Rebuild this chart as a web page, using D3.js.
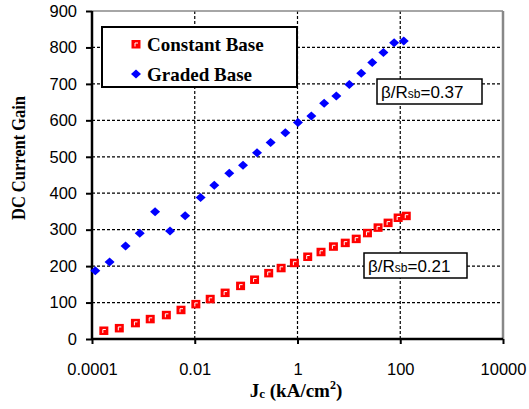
<!DOCTYPE html>
<html>
<head>
<meta charset="utf-8">
<script src="https://cdn.jsdelivr.net/npm/d3@7"></script>
<style>
  body { margin: 0; background: #fff; }
  svg { display: block; }
</style>
</head>
<body>
<div id="chart"></div>
<script>
// Constant Base (red squares)
const constJc = [1.7e-4, 3.4e-4, 7e-4, 1.36e-3, 2.8e-3, 5.4e-3, 0.0105, 0.02, 0.039, 0.078, 0.146, 0.275, 0.48, 0.87, 1.58, 2.87, 5.0, 8.5, 13.9, 23, 37, 58, 91, 131];
const constGain = [22, 29, 43, 54, 65, 79, 95, 109, 126, 145, 162, 180, 194, 208, 225, 238, 253, 263, 274, 290, 305, 318, 332, 337];
// Graded Base (blue diamonds)
const gradedJc = [1.16e-4, 2.2e-4, 4.5e-4, 8.5e-4, 1.69e-3, 3.3e-3, 6.5e-3, 0.013, 0.024, 0.047, 0.087, 0.163, 0.30, 0.58, 1.02, 1.86, 3.3, 5.7, 10.2, 17.4, 28.5, 47, 76, 117];
const gradedGain = [187, 211, 255, 290, 349, 296, 338, 388, 422, 455, 477, 511, 539, 566, 594, 612, 647, 667, 698, 729, 759, 786, 813, 818];

const xTicks = [1e-4, 1e-2, 1, 100, 1e4];
const xTickLabels = ["0.0001", "0.01", "1", "100", "10000"];
const yTicks = [0, 100, 200, 300, 400, 500, 600, 700, 800, 900];
const legendNames = ["Constant Base", "Graded Base"];

const W = 529, H = 409;
const margin = {top: 11, right: 26, bottom: 70, left: 92};
const width = W - margin.left - margin.right;
const height = H - margin.top - margin.bottom;

const svg = d3.select("#chart").append("svg")
    .attr("width", W)
    .attr("height", H);

const x = d3.scaleLog().domain([1e-4, 1e4]).range([margin.left, margin.left + width]);
const y = d3.scaleLinear().domain([0, 900]).range([margin.top + height, margin.top]);

// gridlines
svg.append("g").selectAll("line")
  .data(xTicks.slice(1, -1))
  .join("line")
    .attr("x1", d => x(d)).attr("x2", d => x(d))
    .attr("y1", y(0)).attr("y2", y(900))
    .attr("stroke", "#000").attr("stroke-width", 1.2)
    .attr("stroke-dasharray", "3,2");

svg.append("g").selectAll("line")
  .data(yTicks.slice(1, -1))
  .join("line")
    .attr("x1", x(1e-4)).attr("x2", x(1e4))
    .attr("y1", d => y(d)).attr("y2", d => y(d))
    .attr("stroke", "#000").attr("stroke-width", 1.2)
    .attr("stroke-dasharray", "3,2");

// plot-area border (top / right in grey)
svg.append("line")
    .attr("x1", x(1e-4)).attr("x2", x(1e4))
    .attr("y1", y(900)).attr("y2", y(900))
    .attr("stroke", "#888").attr("stroke-width", 1.5);
svg.append("line")
    .attr("x1", x(1e4)).attr("x2", x(1e4))
    .attr("y1", y(900)).attr("y2", y(0))
    .attr("stroke", "#888").attr("stroke-width", 2.5);

// axes
const xAxis = d3.axisBottom(x)
    .tickValues(xTicks)
    .tickFormat((d, i) => xTickLabels[i])
    .tickSize(5)
    .tickPadding(19);
const gx = svg.append("g")
    .attr("transform", `translate(0,${y(0)})`)
    .call(xAxis);

const yAxis = d3.axisLeft(y)
    .tickValues(yTicks)
    .tickSize(6)
    .tickPadding(9);
const gy = svg.append("g")
    .attr("transform", `translate(${x(1e-4)},0)`)
    .call(yAxis);

[gx, gy].forEach(g => {
  g.select(".domain").attr("stroke", "#000").attr("stroke-width", 2.5);
  g.selectAll(".tick line").attr("stroke", "#000").attr("stroke-width", 2);
  g.selectAll(".tick text")
    .attr("fill", "#000")
    .style("font-family", "'Liberation Sans', Arial, sans-serif")
    .style("font-size", "16.5px");
});
gy.select(".domain").attr("d", `M0,${y(0)}V${y(900)}`);
gx.select(".domain").attr("d", `M${x(1e-4)},0H${x(1e4)}`);

// markers
function squareMark(sel) {
  sel.append("rect")
    .attr("x", -4.5).attr("y", -4.5).attr("width", 9).attr("height", 8.5)
    .attr("fill", "#f00");
  sel.append("path")
    .attr("d", "M-1,2V-1.5H2")
    .attr("fill", "none").attr("stroke", "#fff").attr("stroke-width", 1);
}
function diamondMark(sel) {
  sel.append("path")
    .attr("d", "M0,-4.5L5,0L0,4.5L-5,0Z")
    .attr("fill", "#00f");
}

svg.append("g").selectAll("g")
  .data(d3.zip(constJc, constGain))
  .join("g")
    .attr("transform", d => `translate(${x(d[0])},${y(d[1])})`)
    .call(squareMark);

svg.append("g").selectAll("g")
  .data(d3.zip(gradedJc, gradedGain))
  .join("g")
    .attr("transform", d => `translate(${x(d[0])},${y(d[1])})`)
    .call(diamondMark);

// legend
const legend = svg.append("g");
legend.append("rect")
    .attr("x", 102).attr("y", 27).attr("width", 195).attr("height", 60)
    .attr("fill", "#fff").attr("stroke", "#000").attr("stroke-width", 2);
const li = legend.selectAll("g.item")
  .data(legendNames)
  .join("g")
    .attr("class", "item")
    .attr("transform", (d, i) => `translate(136,${44.5 + i * 29.5})`);
li.filter((d, i) => i === 0).call(squareMark);
li.filter((d, i) => i === 1).call(diamondMark);
li.append("text")
    .attr("x", 11).attr("dy", "0.35em")
    .style("font-family", "'Liberation Serif', 'Times New Roman', serif")
    .style("font-weight", "bold")
    .style("font-size", "19px")
    .text(d => d);

// beta/Rsb annotations
function annot(xb, yb, wb, val) {
  const g = svg.append("g").attr("transform", `translate(${xb},${yb})`);
  g.append("rect")
    .attr("width", wb).attr("height", 25)
    .attr("fill", "#fff").attr("stroke", "#000").attr("stroke-width", 1.5);
  const t = g.append("text")
    .attr("x", 4).attr("y", 19)
    .style("font-family", "'Liberation Sans', Arial, sans-serif")
    .style("font-size", "17px");
  t.append("tspan").text("β/R");
  t.append("tspan").style("font-size", "12px").text("sb");
  t.append("tspan").text("=" + val);
}
annot(377, 79, 105, "0.37");
annot(364, 253, 103, "0.21");

// axis titles
const xt = svg.append("text")
    .attr("x", 296).attr("y", 397)
    .attr("text-anchor", "middle")
    .style("font-family", "'Liberation Serif', 'Times New Roman', serif")
    .style("font-weight", "bold")
    .style("font-size", "19px");
xt.append("tspan").text("J");
xt.append("tspan").attr("font-size", "13px").attr("dy", 1).text("c");
xt.append("tspan").attr("dy", -1).text(" (kA/cm");
xt.append("tspan").attr("font-size", "12px").attr("dy", -8).text("2");
xt.append("tspan").attr("dy", 8).text(")");

svg.append("text")
    .attr("transform", `translate(25,158) rotate(-90)`)
    .attr("text-anchor", "middle")
    .attr("textLength", 124)
    .attr("lengthAdjust", "spacingAndGlyphs")
    .style("font-family", "'Liberation Serif', 'Times New Roman', serif")
    .style("font-weight", "bold")
    .style("font-size", "19px")
    .text("DC Current Gain");
</script>
</body>
</html>
